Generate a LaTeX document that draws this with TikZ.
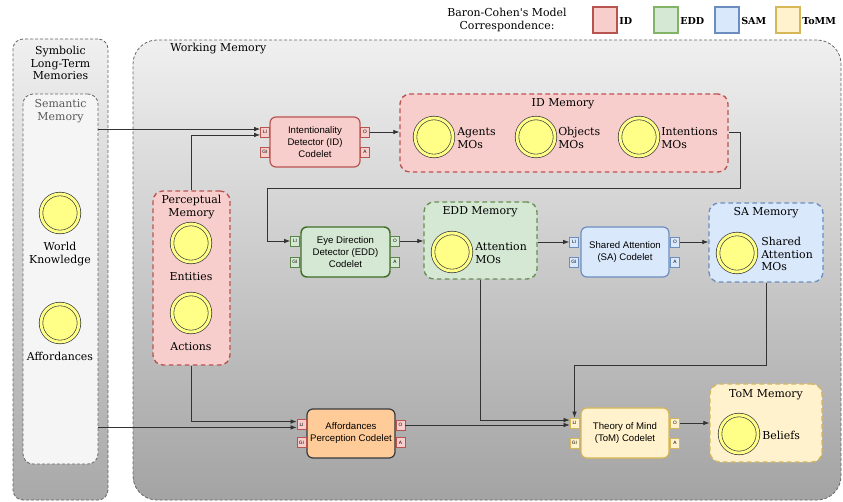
\documentclass[tikz,border=0pt]{standalone}
\usepackage{fontspec}
\setmainfont{DejaVu Serif}
\setsansfont{Liberation Sans}
\usetikzlibrary{arrows.meta,calc}
\definecolor{idfill}{HTML}{F8CECC}\definecolor{idline}{HTML}{B85450}
\definecolor{eddfill}{HTML}{D5E8D4}\definecolor{eddline}{HTML}{82B366}
\definecolor{eddcode}{HTML}{3F6E27}
\definecolor{safill}{HTML}{DAE8FC}\definecolor{saline}{HTML}{6C8EBF}
\definecolor{tomfill}{HTML}{FFF2CC}\definecolor{tomline}{HTML}{D6B656}
\definecolor{afffill}{HTML}{FFCC99}\definecolor{dark}{HTML}{36393D}
\definecolor{moy}{HTML}{FFFF88}\definecolor{outl}{HTML}{666666}
\begin{document}
\begin{tikzpicture}[x=0.75pt,y=-0.75pt,
  txt/.style={font=\fontsize{8.2}{9.6}\selectfont, inner sep=0pt, align=center},
  lgbox/.style={draw, line width=1.1pt, minimum width=18pt, minimum height=19.5pt, inner sep=0pt},
  lgtxt/.style={font=\bfseries\fontsize{7.2}{8}\selectfont, inner sep=0pt, anchor=west},
  outer/.style={draw=outl, line width=0.6pt, dash pattern=on 2.25pt off 1.5pt, inner sep=0pt},
  mem/.style={draw, line width=1pt, dash pattern=on 3.5pt off 2.5pt, rounded corners=7.5pt, inner sep=0pt},
  codelet/.style={draw, rounded corners=4.5pt, line width=0.9pt, align=center, inner sep=0pt,
    font=\sffamily\fontsize{7.2}{9}\selectfont},
  port/.style={draw, line width=0.6pt, inner sep=0pt, minimum width=6.75pt, minimum height=7.5pt,
    font=\sffamily\fontsize{3.6}{3.6}\selectfont},
  mo/.style={circle, draw=dark, line width=0.5pt, fill=moy, double=moy, double distance=2.2pt,
    minimum size=28.5pt, inner sep=0pt},
  conn/.style={draw=black!80, line width=0.5pt, -{Latex[length=4.5pt,width=3.4pt]}}
]
\useasboundingbox (0,0) rectangle (843,502);
% legend
\node[txt] (lgt) at (507,20) {Baron-Cohen\textquotesingle s Model\\Correspondence:};
\node[lgbox, fill=idfill, draw=idline] (lgid) at (605,20) {};
\node[lgtxt] (lgidt) at (619,21) {ID};
\node[lgbox, fill=eddfill, draw=eddline] (lgedd) at (666,20) {};
\node[lgtxt] (lgeddt) at (680,21) {EDD};
\node[lgbox, fill=safill, draw=saline] (lgsa) at (727,20) {};
\node[lgtxt] (lgsat) at (741,21) {SAM};
\node[lgbox, fill=tomfill, draw=tomline] (lgtom) at (788,20) {};
\node[lgtxt] (lgtomt) at (802,21) {ToMM};
% outer boxes
\node[outer, rounded corners=7.5pt, top color=black!6, bottom color=black!34,
  minimum width=95*0.75pt, minimum height=461*0.75pt] (symb) at (60.5,269.5) {};
\node[outer, rounded corners=18pt, top color=black!6, bottom color=black!36,
  minimum width=708*0.75pt, minimum height=460*0.75pt] (wm) at (487,270) {};
\node[outer, rounded corners=7.5pt, fill=black!4,
  minimum width=75*0.75pt, minimum height=370*0.75pt] (sem) at (60.5,279) {};
\node[txt] (symbt) at (60.5,63) {Symbolic\\Long-Term\\Memories};
\node[txt, text=black!65] (semt) at (60.5,111) {Semantic\\Memory};
\node[mo] (wk) at (60,213) {};
\node[txt] (wkt) at (60,254) {World\\Knowledge};
\node[mo] (aff) at (60,323) {};
\node[txt] (afft) at (60,356) {Affordances};
\node[txt, anchor=west] (wmt) at (170,49) {Working Memory};
% ID memory
\node[mem, fill=idfill, draw=idline, minimum width=328*0.75pt, minimum height=78*0.75pt] (idmem) at (564,133) {};
\node[txt] (idmemt) at (563,104) {ID Memory};
\node[mo] (agents) at (434,137) {};
\node[txt, anchor=west, align=left] (agentst) at (457,138) {Agents\\MOs};
\node[mo] (objects) at (536,137) {};
\node[txt, anchor=west, align=left] (objectst) at (558,138) {Objects\\MOs};
\node[mo] (intentions) at (639,137) {};
\node[txt, anchor=west, align=left] (intentionst) at (661,138) {Intentions\\MOs};
% perceptual memory
\node[mem, fill=idfill, draw=idline, minimum width=77*0.75pt, minimum height=174*0.75pt] (perc) at (191.5,278) {};
\node[txt] (perct) at (191.5,207) {Perceptual\\Memory};
\node[mo] (entities) at (191,243) {};
\node[txt] (entitiest) at (191,277) {Entities};
\node[mo] (actions) at (191,313) {};
\node[txt] (actionst) at (191,347) {Actions};
% EDD memory
\node[mem, fill=eddfill, draw=eddline!80!black, minimum width=113*0.75pt, minimum height=77*0.75pt] (eddmem) at (480.5,240.5) {};
\node[txt] (eddmemt) at (480,212) {EDD Memory};
\node[mo] (attention) at (452,252) {};
\node[txt, anchor=west, align=left] (attentiont) at (475,253) {Attention\\MOs};
% SA memory
\node[mem, fill=safill, draw=saline, minimum width=114*0.75pt, minimum height=79*0.75pt] (samem) at (766,242.5) {};
\node[txt] (samemt) at (766,213) {SA Memory};
\node[mo] (shared) at (737,253) {};
\node[txt, anchor=west, align=left] (sharedt) at (761,254) {Shared\\Attention\\MOs};
% ToM memory
\node[mem, fill=tomfill, draw=tomline, minimum width=112*0.75pt, minimum height=78*0.75pt] (tommem) at (766,423) {};
\node[txt] (tommemt) at (766,395) {ToM Memory};
\node[mo] (beliefs) at (739,434) {};
\node[txt, anchor=west] (beliefst) at (762,435) {Beliefs};
% codelets
\node[codelet, fill=idfill, draw=idline, minimum width=90*0.75pt, minimum height=50*0.75pt] (idc) at (315,142)
  {Intentionality\\Detector (ID)\\Codelet};
\node[port, fill=idfill, draw=idline] (idLI) at (265,132) {LI};
\node[port, fill=idfill, draw=idline] (idGI) at (265,152) {GI};
\node[port, fill=idfill, draw=idline] (idO) at (365,132) {O};
\node[port, fill=idfill, draw=idline] (idA) at (365,152) {A};
\node[codelet, fill=eddfill, draw=eddcode, line width=1.1pt, minimum width=89*0.75pt, minimum height=50*0.75pt] (eddc) at (345.5,252)
  {Eye Direction\\Detector (EDD)\\Codelet};
\node[port, fill=eddfill, draw=eddcode!85] (eddLI) at (295,241) {LI};
\node[port, fill=eddfill, draw=eddcode!85] (eddGI) at (295,262) {GI};
\node[port, fill=eddfill, draw=eddcode!85] (eddO) at (395,241) {O};
\node[port, fill=eddfill, draw=eddcode!85] (eddA) at (395,262) {A};
\node[codelet, fill=safill, draw=saline, minimum width=88*0.75pt, minimum height=50*0.75pt] (sac) at (625,252)
  {Shared Attention\\(SA) Codelet};
\node[port, fill=safill, draw=saline] (saLI) at (574,242) {LI};
\node[port, fill=safill, draw=saline] (saGI) at (574,262) {GI};
\node[port, fill=safill, draw=saline] (saO) at (675,242) {O};
\node[port, fill=safill, draw=saline] (saA) at (675,262) {A};
\node[codelet, fill=tomfill, draw=tomline, minimum width=88*0.75pt, minimum height=50*0.75pt] (tomc) at (625,433)
  {Theory of Mind\\(ToM) Codelet};
\node[port, fill=tomfill, draw=tomline] (tomLI) at (574.5,423) {LI};
\node[port, fill=tomfill, draw=tomline] (tomGI) at (574.5,443) {GI};
\node[port, fill=tomfill, draw=tomline] (tomO) at (675,423) {O};
\node[port, fill=tomfill, draw=tomline] (tomA) at (675,443) {A};
\node[codelet, fill=afffill, draw=dark, minimum width=88*0.75pt, minimum height=49*0.75pt] (affc) at (351,433.5)
  {Affordances\\Perception Codelet};
\node[port, fill=idfill, draw=idline] (affLI) at (301.5,424.5) {LI};
\node[port, fill=idfill, draw=idline] (affGI) at (301.5,442.5) {GI};
\node[port, fill=idfill, draw=idline] (affO) at (400.5,425) {O};
\node[port, fill=idfill, draw=idline] (affA) at (400.5,442.5) {A};
% connector endpoints
\coordinate (idLIa) at ([yshift=2.2pt]idLI.west);
\coordinate (idLIb) at ([yshift=-2.2pt]idLI.west);
\coordinate (affLIa) at ([yshift=2.2pt]affLI.west);
\coordinate (affLIb) at ([yshift=-2.2pt]affLI.west);
\coordinate (tomLIa) at ([yshift=2.2pt]tomLI.west);
\coordinate (tomLIb) at ([yshift=-2.2pt]tomLI.west);
\coordinate (t1) at (740,188);
\coordinate (t2) at (267,188);
\coordinate (t3) at (574.5,365);
% connectors
\draw[conn] (sem.east |- idLIa) -- (idLIa);
\draw[conn] (perc.north) |- (idLIb);
\draw[conn] (sem.east |- affLIb) -- (affLIb);
\draw[conn] (perc.south) |- (affLIa);
\draw[conn] (idO.east) -- (idO.east -| idmem.west);
\draw[conn] (idmem.east |- idO.east) -| (t1) -- (t2) |- (eddLI.west);
\draw[conn] (eddO.east) -- (eddO.east -| eddmem.west);
\draw[conn] (eddmem.east |- saLI.west) -- (saLI.west);
\draw[conn] (saO.east) -- (saO.east -| samem.west);
\draw[conn] (samem.south) |- (t3) -- (tomLI.north);
\draw[conn] (eddmem.south) |- (tomLIa);
\draw[conn] (affO.east) -- (affO.east -| tomLIb);
\draw[conn] (tomO.east) -- (tomO.east -| tommem.west);
\end{tikzpicture}
\end{document}
